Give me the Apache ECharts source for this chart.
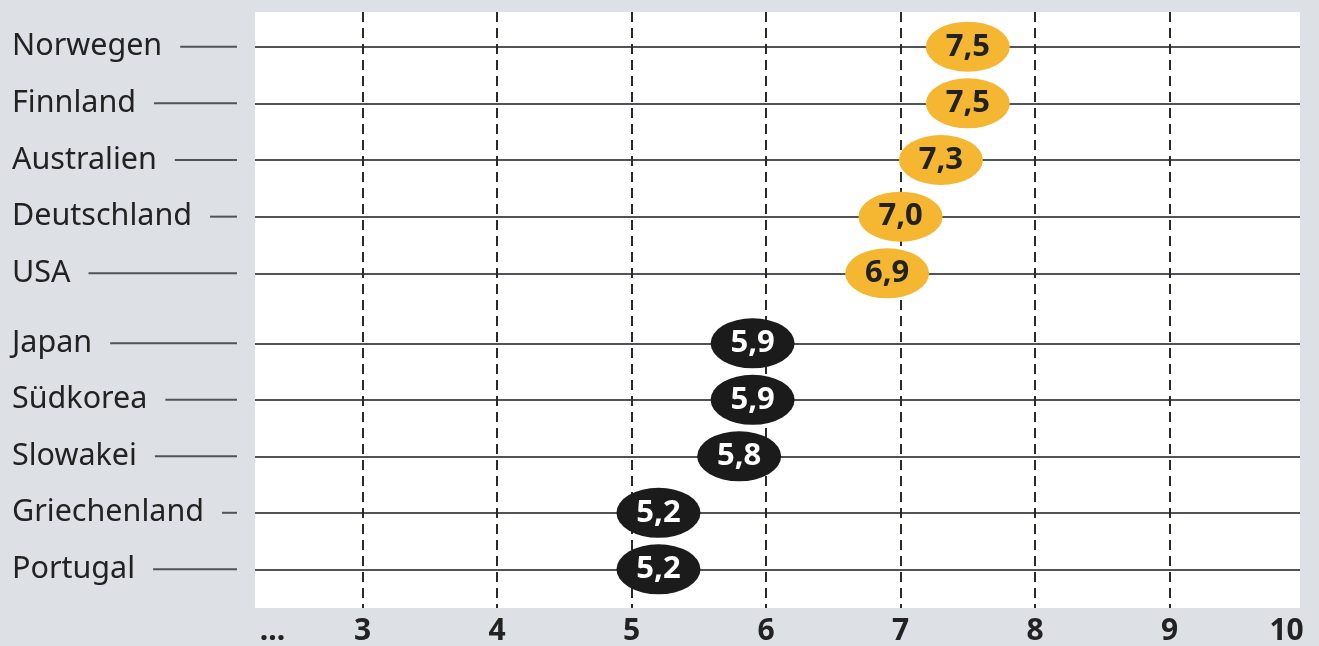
<!DOCTYPE html>
<html>
<head>
<meta charset="utf-8">
<script src="https://cdn.jsdelivr.net/npm/echarts@6/dist/echarts.min.js"></script>
<style>
html,body{margin:0;padding:0;background:#dde0e4;}
#c{width:1319px;height:646px;}
</style>
</head>
<body>
<div id="c"></div>
<script>
// ---- data ----
var topCountries = ['Norwegen', 'Finnland', 'Australien', 'Deutschland', 'USA'];
var topValues = [7.5, 7.5, 7.3, 7.0, 6.9];
var bottomCountries = ['Japan', 'Südkorea', 'Slowakei', 'Griechenland', 'Portugal'];
var bottomValues = [5.9, 5.9, 5.8, 5.2, 5.2];
var tickValues = [2.33, 3, 4, 5, 6, 7, 8, 9, 9.87];
var tickLabels = ['...', '3', '4', '5', '6', '7', '8', '9', '10'];
var gridTicks = [3, 4, 5, 6, 7, 8, 9];

// ---- layout ----
var FONT = 'Noto Sans';
var LABEL_SIZE = 30.5;
var plotLeft = 255, plotRight = 19, plotTop = 12, plotBottom = 37;
var xMin = 2.2, xMax = 9.97;
var labelStartX = 12, dashEndX = 237, gapW = 18;

var cv = document.createElement('canvas').getContext('2d');
cv.font = LABEL_SIZE + 'px "' + FONT + '"';
function measure(t) { return cv.measureText(t).width; }

function makeAxisLabel(cats, prefix) {
  var rich = {
    t: { fontFamily: FONT, fontSize: LABEL_SIZE, color: '#222', verticalAlign: 'middle' },
    g: { width: gapW, height: 2, verticalAlign: 'middle' }
  };
  cats.forEach(function (c, i) {
    var w = (dashEndX - labelStartX) - measure(c) - gapW;
    rich[prefix + i] = { width: Math.max(2, w), height: 2, backgroundColor: '#505357', verticalAlign: 'middle' };
  });
  return {
    show: true,
    margin: plotLeft - dashEndX,
    formatter: function (v, idx) { return '{t|' + v + '}{g|}{' + prefix + idx + '|}'; },
    rich: rich
  };
}

var ellipse = 'path://M0,50 A50,50 0 1,1 100,50 A50,50 0 1,1 0,50 Z';
function fmt(v) { return v.toFixed(1).replace('.', ','); }

var chart = echarts.init(document.getElementById('c'), null, { renderer: 'canvas' });

var option = {
  backgroundColor: '#dde0e4',
  animation: false,
  grid: [
    { left: plotLeft, right: plotRight, top: plotTop, bottom: plotBottom, show: true, backgroundColor: '#ffffff', borderWidth: 0 },
    { left: plotLeft, right: plotRight, top: 46.7, height: 226.6 },
    { left: plotLeft, right: plotRight, top: 343.3, height: 226 }
  ],
  xAxis: [
    {
      gridIndex: 0, type: 'value', min: xMin, max: xMax, splitNumber: 8,
      axisLine: { show: false },
      axisTick: { show: false, customValues: gridTicks },
      splitLine: { show: true, showMinLine: true, showMaxLine: true, lineStyle: { color: '#2a2a2a', width: 2, type: [10, 6] } },
      axisLabel: {
        show: true, customValues: tickValues, margin: 8,
        fontFamily: FONT, fontSize: 30, fontWeight: 'bold', color: '#222',
        formatter: function (v) {
          for (var i = 0; i < tickValues.length; i++) { if (Math.abs(tickValues[i] - v) < 1e-6) return tickLabels[i]; }
          return '';
        }
      }
    },
    { gridIndex: 1, type: 'value', min: xMin, max: xMax, show: false },
    { gridIndex: 2, type: 'value', min: xMin, max: xMax, show: false }
  ],
  yAxis: [
    { gridIndex: 0, type: 'value', show: false },
    {
      gridIndex: 1, type: 'category', data: topCountries, inverse: true, boundaryGap: false,
      axisLine: { show: false }, axisTick: { show: false },
      splitLine: { show: true, lineStyle: { color: '#505357', width: 2 } },
      axisLabel: makeAxisLabel(topCountries, 'a')
    },
    {
      gridIndex: 2, type: 'category', data: bottomCountries, inverse: true, boundaryGap: false,
      axisLine: { show: false }, axisTick: { show: false },
      splitLine: { show: true, lineStyle: { color: '#505357', width: 2 } },
      axisLabel: makeAxisLabel(bottomCountries, 'b')
    }
  ],
  series: [
    {
      type: 'scatter', xAxisIndex: 1, yAxisIndex: 1,
      symbol: ellipse, symbolSize: [84, 50],
      itemStyle: { color: '#f5b731', opacity: 1 },
      label: { show: true, position: 'inside', fontFamily: FONT, fontSize: 31, fontWeight: 'bold', color: '#222',
        formatter: function (p) { return fmt(p.value[0]); } },
      data: topValues.map(function (v, i) { return [v, topCountries[i]]; })
    },
    {
      type: 'scatter', xAxisIndex: 2, yAxisIndex: 2,
      symbol: ellipse, symbolSize: [84, 50],
      itemStyle: { color: '#1b1b1b', opacity: 1 },
      label: { show: true, position: 'inside', fontFamily: FONT, fontSize: 31, fontWeight: 'bold', color: '#ffffff',
        formatter: function (p) { return fmt(p.value[0]); } },
      data: bottomValues.map(function (v, i) { return [v, bottomCountries[i]]; })
    }
  ]
};
chart.setOption(option);
</script>
</body>
</html>
